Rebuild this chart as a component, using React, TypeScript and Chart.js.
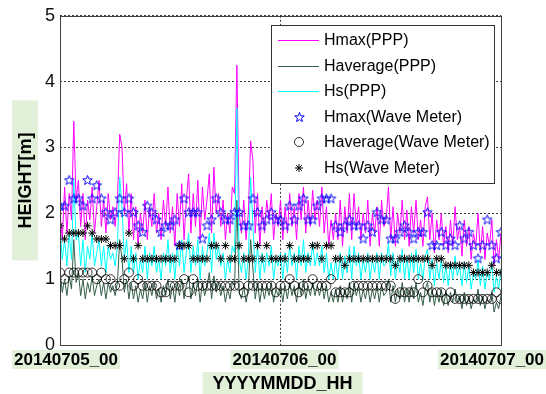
import { useEffect, useRef } from 'react';
import { Chart, registerables } from 'chart.js';

Chart.register(...registerables);

// ---------- data ----------
const X_TICK_HOURS = [0, 24, 48];
const X_TICK_LABELS = ['20140705_00', '20140706_00', '20140707_00'];
const Y_MIN = 0;
const Y_MAX = 5;
const X_TITLE = 'YYYYMMDD_HH';
const Y_TITLE = 'HEIGHT[m]';
const SERIES_NAMES = [
  'Hmax(PPP)',
  'Haverage(PPP)',
  'Hs(PPP)',
  'Hmax(Wave Meter)',
  'Haverage(Wave Meter)',
  'Hs(Wave Meter)',
];
const PPP_STEP_HOURS = 0.25;
const WM_STEP_HOURS = 0.5;

const hmaxPPP = [
  2.0, 1.6, 2.4, 1.7, 2.3, 1.9, 3.4, 2.2,
  2.5, 1.8, 2.3, 1.6, 2.2, 1.9, 2.4, 1.7,
  2.1, 2.5, 1.8, 2.2, 1.7, 2.3, 1.9, 2.1,
  1.8, 2.2, 3.2, 3.0, 2.0, 2.45, 1.7, 2.3,
  1.6, 2.1, 1.5, 2.0, 1.7, 2.2, 1.6, 2.1,
  1.8, 2.3, 1.7, 2.0, 1.6, 2.2, 1.8, 2.4,
  1.7, 2.1, 1.5, 2.3, 1.8, 2.45, 1.6, 2.2,
  2.6, 1.7, 2.3, 1.8, 2.5, 1.6, 2.4, 1.9,
  2.2, 2.6, 1.7, 2.7, 2.0, 2.3, 1.8, 2.2,
  1.6, 2.0, 1.7, 2.4, 2.3, 4.25, 2.0, 1.7,
  2.2, 1.6, 2.0, 3.1, 2.8, 1.7, 2.3, 1.5,
  2.1, 1.7, 2.2, 1.9, 2.3, 1.6, 2.0, 1.8,
  2.2, 1.6, 2.1, 1.7, 2.3, 1.8, 2.1, 1.6,
  2.3, 1.9, 2.4, 1.7, 2.2, 1.8, 2.35, 1.9,
  2.2, 1.8, 2.4, 1.7, 2.1, 1.5, 1.9, 1.6,
  2.0, 1.6, 2.2, 1.5, 2.1, 1.7, 2.3, 1.6,
  2.3, 1.8, 2.1, 1.6, 2.0, 1.7, 2.2, 1.5,
  2.0, 1.7, 2.1, 1.5, 2.2, 1.8, 1.9, 2.4,
  1.6, 2.1, 1.5, 2.0, 1.7, 2.2, 1.6, 2.05,
  1.5, 2.1, 1.7, 2.2, 1.6, 1.9, 1.5, 2.1,
  2.25, 1.6, 2.0, 1.4, 1.9, 1.6, 2.0, 1.5,
  1.8, 1.4, 1.9, 1.5, 2.1, 1.6, 1.8, 1.35,
  1.9, 1.5, 1.8, 1.3, 1.7, 1.5, 2.0, 1.4,
  1.8, 1.3, 1.7, 1.5, 1.9, 1.2, 1.6, 1.3, 1.7,
];

const haveragePPP = [
  1.1, 0.8, 1.0, 0.75, 1.05, 0.85, 1.6, 0.95,
  1.1, 0.75, 1.0, 0.7, 0.95, 0.8, 1.05, 0.75,
  0.9, 1.0, 0.75, 0.95, 0.7, 0.95, 0.8, 0.9,
  0.75, 0.95, 1.6, 1.3, 0.8, 1.0, 0.7, 0.95,
  0.7, 0.9, 0.65, 0.85, 0.7, 0.95, 0.65, 0.9,
  0.75, 0.95, 0.7, 0.85, 0.65, 0.9, 0.75, 1.0,
  0.7, 0.9, 0.65, 0.95, 0.75, 1.0, 0.7, 0.9,
  1.05, 0.7, 0.95, 0.75, 1.0, 0.65, 0.95, 0.75,
  0.9, 1.1, 0.7, 1.05, 0.8, 0.95, 0.75, 0.9,
  0.65, 0.85, 0.7, 0.95, 0.9, 2.2, 0.8, 0.7,
  0.9, 0.65, 0.85, 1.6, 1.15, 0.7, 0.95, 0.65,
  0.9, 0.7, 0.9, 0.75, 0.95, 0.65, 0.85, 0.75,
  0.9, 0.65, 0.9, 0.7, 0.95, 0.75, 0.9, 0.65,
  0.95, 0.75, 1.0, 0.7, 0.9, 0.75, 0.95, 0.75,
  0.9, 0.75, 0.95, 0.7, 0.9, 0.65, 0.8, 0.65,
  0.85, 0.65, 0.9, 0.65, 0.85, 0.7, 0.95, 0.65,
  0.95, 0.75, 0.9, 0.65, 0.85, 0.7, 0.9, 0.65,
  0.85, 0.7, 0.9, 0.65, 0.9, 0.75, 0.8, 1.0,
  0.65, 0.9, 0.65, 0.85, 0.7, 0.95, 0.65, 0.85,
  0.65, 0.9, 0.7, 0.95, 0.65, 0.8, 0.6, 0.85,
  0.95, 0.65, 0.85, 0.6, 0.8, 0.65, 0.85, 0.6,
  0.8, 0.6, 0.8, 0.65, 0.85, 0.65, 0.75, 0.55,
  0.8, 0.6, 0.75, 0.55, 0.7, 0.65, 0.85, 0.6,
  0.75, 0.55, 0.7, 0.65, 0.8, 0.5, 0.65, 0.55, 0.75,
];

const hsPPP = [
  1.8, 1.3, 1.6, 1.2, 1.7, 1.3, 2.5, 1.6,
  1.7, 1.2, 1.6, 1.1, 1.5, 1.3, 1.7, 1.2,
  1.4, 1.6, 1.2, 1.5, 1.1, 1.5, 1.3, 1.4,
  1.2, 1.5, 2.55, 2.1, 1.3, 1.6, 1.1, 1.5,
  1.1, 1.4, 1.0, 1.3, 1.1, 1.5, 1.0, 1.4,
  1.2, 1.5, 1.1, 1.3, 1.0, 1.4, 1.2, 1.6,
  1.1, 1.4, 1.0, 1.5, 1.2, 1.6, 1.1, 1.4,
  1.7, 1.1, 1.5, 1.2, 1.6, 1.0, 1.5, 1.2,
  1.4, 1.7, 1.1, 1.7, 1.3, 1.5, 1.2, 1.4,
  1.0, 1.3, 1.1, 1.5, 1.4, 3.6, 1.3, 1.1,
  1.4, 1.0, 1.3, 2.55, 1.8, 1.1, 1.5, 1.0,
  1.4, 1.1, 1.4, 1.2, 1.5, 1.0, 1.3, 1.2,
  1.4, 1.0, 1.4, 1.1, 1.5, 1.2, 1.4, 1.0,
  1.5, 1.2, 1.6, 1.1, 1.4, 1.2, 1.55, 1.2,
  1.4, 1.2, 1.5, 1.1, 1.4, 1.0, 1.25, 1.0,
  1.3, 1.0, 1.4, 1.0, 1.35, 1.1, 1.5, 1.0,
  1.5, 1.2, 1.4, 1.0, 1.3, 1.1, 1.4, 1.0,
  1.3, 1.1, 1.4, 1.0, 1.4, 1.2, 1.25, 1.55,
  1.05, 1.4, 1.0, 1.3, 1.1, 1.45, 1.0, 1.35,
  1.0, 1.4, 1.1, 1.45, 1.0, 1.25, 1.0, 1.35,
  1.45, 1.0, 1.3, 0.9, 1.25, 1.0, 1.3, 0.95,
  1.2, 0.9, 1.25, 1.0, 1.35, 1.05, 1.2, 0.9,
  1.25, 0.95, 1.2, 0.85, 1.1, 1.0, 1.3, 0.9,
  1.2, 0.85, 1.1, 1.0, 1.25, 0.8, 1.05, 0.85, 1.15,
];

const hmaxWM = [
  2.11, 2.11, 2.5, 2.22, 2.22, 2.11, 2.5, 2.22, 2.42, 2.22,
  2.01, 1.9, 2.01, 2.22, 2.01, 2.22, 2.01, 1.81, 1.71, 2.11,
  2.01, 1.9, 1.71, 1.81, 1.81, 1.9, 1.51, 2.22, 2.01, 2.01,
  2.01, 1.61, 1.81, 1.9, 2.22, 2.01, 1.9, 1.9, 2.01, 2.01,
  1.81, 1.81, 2.22, 2.01, 1.81, 1.9, 2.01, 1.9, 1.9, 1.81,
  2.11, 1.9, 2.11, 2.22, 1.9, 1.9, 2.11, 2.22, 2.22, 2.22,
  1.81, 1.71, 1.81, 1.9, 1.81, 1.81, 1.61, 1.81, 1.71, 2.01,
  1.9, 1.9, 1.61, 1.61, 1.71, 1.81, 1.71, 1.61, 1.71, 1.71,
  2.01, 1.51, 1.51, 1.71, 1.51, 1.61, 1.51, 1.81, 1.61, 1.71,
  1.51, 1.31, 1.51, 1.9, 1.51, 1.31, 1.71,
];

const haverageWM = [
  1.1, 1.0, 1.1, 1.1, 1.1, 1.1, 1.1, 1.1, 1.0, 1.1,
  1.0, 1.0, 0.9, 0.9, 1.0, 1.1, 0.9, 1.0, 0.9, 0.9,
  0.9, 0.9, 0.8, 0.8, 0.9, 0.9, 0.9, 1.0, 0.8, 1.0,
  0.9, 0.9, 0.9, 0.9, 0.9, 0.9, 0.9, 0.9, 0.9, 0.9,
  0.8, 0.9, 0.9, 0.9, 0.9, 0.9, 0.9, 0.8, 0.9, 0.9,
  1.0, 0.9, 0.8, 0.9, 0.9, 1.0, 0.9, 0.9, 0.9, 1.0,
  0.8, 0.8, 0.8, 0.8, 0.9, 0.9, 0.9, 0.9, 0.9, 0.9,
  0.9, 0.9, 0.9, 0.7, 0.8, 0.8, 0.8, 0.8, 1.0, 0.8,
  0.9, 0.8, 0.8, 0.8, 0.7, 0.8, 0.7, 0.7, 0.7, 0.7,
  0.7, 0.7, 0.7, 0.7, 0.7, 0.8, 0.7,
];

const hsWM = [
  1.81, 1.61, 1.7, 1.7, 1.7, 1.7, 1.81, 1.7, 1.61, 1.61,
  1.61, 1.51, 1.51, 1.51, 1.31, 1.7, 1.31, 1.51, 1.31, 1.31,
  1.31, 1.31, 1.31, 1.31, 1.31, 1.31, 1.51, 1.51, 1.51, 1.31,
  1.31, 1.31, 1.31, 1.51, 1.51, 1.31, 1.51, 1.31, 1.31, 1.51,
  1.31, 1.31, 1.31, 1.51, 1.31, 1.51, 1.31, 1.31, 1.31, 1.31,
  1.51, 1.31, 1.31, 1.31, 1.31, 1.51, 1.51, 1.31, 1.51, 1.51,
  1.31, 1.31, 1.21, 1.31, 1.31, 1.31, 1.31, 1.31, 1.31, 1.31,
  1.31, 1.31, 1.31, 1.21, 1.31, 1.31, 1.31, 1.31, 1.31, 1.31,
  1.31, 1.21, 1.31, 1.31, 1.21, 1.21, 1.21, 1.21, 1.21, 1.21,
  1.1, 1.1, 1.1, 1.1, 1.21, 1.1, 1.1,
];

// ---------- styles ----------
const MAGENTA = '#ff00ff';
const DARK_GREEN = '#35604a';
const CYAN = '#00ffff';
const STAR_BLUE = '#0000ff';
const LABEL_BG = '#e2efd9';
const GRID_COLOR = '#3a3a3a';
const FONT = 'Arial, "Liberation Sans", sans-serif';

function makeStar(color: string, r: number): HTMLCanvasElement {
  const size = Math.ceil(r * 2 + 3);
  const c = document.createElement('canvas');
  c.width = size;
  c.height = size;
  const g = c.getContext('2d') as CanvasRenderingContext2D;
  const cx = size / 2;
  const cy = size / 2;
  g.beginPath();
  for (let k = 0; k < 10; k++) {
    const rad = k % 2 === 0 ? r : r * 0.42;
    const ang = -Math.PI / 2 + (k * Math.PI) / 5;
    const px = cx + rad * Math.cos(ang);
    const py = cy + rad * Math.sin(ang);
    if (k === 0) g.moveTo(px, py);
    else g.lineTo(px, py);
  }
  g.closePath();
  g.strokeStyle = color;
  g.lineWidth = 1;
  g.stroke();
  return c;
}

const toPoints = (vals: number[], step: number) => vals.map((v, i) => ({ x: i * step, y: v }));

export default function App() {
  const ref = useRef<HTMLCanvasElement | null>(null);

  useEffect(() => {
    if (!ref.current) return;
    const star = makeStar(STAR_BLUE, 5);

    const decor = {
      id: 'decor',
      afterDraw(chart: any) {
        const { ctx, chartArea: a, scales } = chart;
        ctx.save();
        // axes box
        ctx.strokeStyle = '#404040';
        ctx.lineWidth = 1;
        ctx.setLineDash([]);
        ctx.strokeRect(Math.round(a.left) + 0.5, Math.round(a.top) + 0.5, Math.round(a.right - a.left), Math.round(a.bottom - a.top));

        // x tick labels with backdrops
        const xs = scales.x;
        ctx.font = `bold 17px ${FONT}`;
        ctx.textBaseline = 'middle';
        ctx.textAlign = 'center';
        X_TICK_HOURS.forEach((h, i) => {
          const label = X_TICK_LABELS[i];
          const w = ctx.measureText(label).width;
          const px = xs.getPixelForValue(h);
          const cx = Math.min(Math.max(px + 4, w / 2 + 14), chart.width - w / 2 - 2);
          ctx.fillStyle = LABEL_BG;
          ctx.fillRect(cx - w / 2 - 2, a.bottom + 5, w + 4, 19);
          ctx.fillStyle = '#000';
          ctx.fillText(label, cx, a.bottom + 15);
        });

        // x title
        ctx.font = `bold 18px ${FONT}`;
        const midX = (a.left + a.right) / 2 + 2;
        ctx.fillStyle = LABEL_BG;
        ctx.fillRect(midX - 80, a.bottom + 27, 160, 30);
        ctx.fillStyle = '#000';
        ctx.fillText(X_TITLE, midX, a.bottom + 39);

        // y title
        const midY = (a.top + a.bottom) / 2;
        ctx.fillStyle = LABEL_BG;
        ctx.fillRect(12, midY - 80, 26, 160);
        ctx.save();
        ctx.translate(25, midY);
        ctx.rotate(-Math.PI / 2);
        ctx.fillStyle = '#000';
        ctx.fillText(Y_TITLE, 0, 1);
        ctx.restore();

        // legend
        const lx = 271;
        const ly = 25;
        const lw = 223;
        const lh = 158;
        ctx.fillStyle = '#fff';
        ctx.fillRect(lx, ly, lw, lh);
        ctx.strokeStyle = '#333';
        ctx.lineWidth = 1;
        ctx.strokeRect(lx + 0.5, ly + 0.5, lw, lh);
        ctx.font = `16px ${FONT}`;
        ctx.textAlign = 'left';
        const lineColors = [MAGENTA, DARK_GREEN, CYAN];
        SERIES_NAMES.forEach((name, k) => {
          const y = Math.round(ly + 15 + k * 25.6);
          if (k < 3) {
            ctx.strokeStyle = lineColors[k];
            ctx.lineWidth = 1;
            ctx.beginPath();
            ctx.moveTo(278, y + 0.5);
            ctx.lineTo(319, y + 0.5);
            ctx.stroke();
          } else if (k === 3) {
            ctx.drawImage(star, Math.round(299 - star.width / 2), Math.round(y - star.height / 2));
          } else if (k === 4) {
            ctx.strokeStyle = '#000';
            ctx.lineWidth = 0.8;
            ctx.beginPath();
            ctx.arc(299, y, 4.5, 0, Math.PI * 2);
            ctx.stroke();
          } else {
            ctx.strokeStyle = '#000';
            ctx.lineWidth = 1;
            const r = 4;
            const d = r * Math.SQRT1_2;
            ctx.beginPath();
            ctx.moveTo(299 - r, y); ctx.lineTo(299 + r, y);
            ctx.moveTo(299, y - r); ctx.lineTo(299, y + r);
            ctx.moveTo(299 - d, y - d); ctx.lineTo(299 + d, y + d);
            ctx.moveTo(299 - d, y + d); ctx.lineTo(299 + d, y - d);
            ctx.stroke();
          }
          ctx.fillStyle = '#000';
          ctx.fillText(name, 324, y + 1);
        });
        ctx.restore();
      },
    };

    const lineDs = (label: string, vals: number[], color: string, order: number) => ({
      label,
      data: toPoints(vals, PPP_STEP_HOURS),
      borderColor: color,
      backgroundColor: color,
      borderWidth: 1,
      pointRadius: 0,
      tension: 0,
      fill: false,
      order,
    });

    const chart = new Chart(ref.current, {
      type: 'line',
      data: {
        datasets: [
          lineDs(SERIES_NAMES[0], hmaxPPP, MAGENTA, 6),
          lineDs(SERIES_NAMES[1], haveragePPP, DARK_GREEN, 5),
          lineDs(SERIES_NAMES[2], hsPPP, CYAN, 4),
          {
            label: SERIES_NAMES[3],
            data: toPoints(hmaxWM, WM_STEP_HOURS),
            showLine: false,
            pointStyle: star as any,
            pointRadius: 5,
            borderColor: STAR_BLUE,
            backgroundColor: STAR_BLUE,
            order: 3,
          },
          {
            label: SERIES_NAMES[4],
            data: toPoints(haverageWM, WM_STEP_HOURS),
            showLine: false,
            pointStyle: 'circle',
            pointRadius: 4.5,
            pointBorderWidth: 0.8,
            borderColor: '#000',
            backgroundColor: 'rgba(0,0,0,0)',
            order: 2,
          },
          {
            label: SERIES_NAMES[5],
            data: toPoints(hsWM, WM_STEP_HOURS),
            showLine: false,
            pointStyle: 'star',
            pointRadius: 4,
            pointBorderWidth: 1,
            borderColor: '#000',
            backgroundColor: '#000',
            order: 1,
          },
        ] as any,
      },
      options: {
        animation: false,
        responsive: false,
        devicePixelRatio: 1,
        layout: { padding: { top: 14, right: 45, left: 0, bottom: 0 } },
        plugins: { legend: { display: false }, tooltip: { enabled: false } },
        scales: {
          x: {
            type: 'linear',
            min: X_TICK_HOURS[0],
            max: X_TICK_HOURS[X_TICK_HOURS.length - 1],
            afterBuildTicks: (s: any) => {
              s.ticks = X_TICK_HOURS.map((v) => ({ value: v }));
            },
            afterFit: (s: any) => {
              s.height = 49;
            },
            ticks: { display: false },
            border: { display: false, dash: [2, 2] },
            grid: {
              color: GRID_COLOR,
              lineWidth: 1,
              drawTicks: false,
            },
          },
          y: {
            type: 'linear',
            min: Y_MIN,
            max: Y_MAX,
            afterFit: (s: any) => {
              s.width = 60;
            },
            ticks: {
              stepSize: 1,
              padding: 5,
              color: '#111',
              font: { family: FONT, size: 18 },
            },
            border: { display: false, dash: [2, 2] },
            grid: {
              color: GRID_COLOR,
              lineWidth: 1,
              drawTicks: false,
            },
          },
        },
      } as any,
      plugins: [decor],
    });

    return () => chart.destroy();
  }, []);

  return (
    <div style={{ position: 'absolute', left: 0, top: 0, width: 546, height: 394 }}>
      <canvas ref={ref} width={546} height={394} style={{ display: 'block' }} />
    </div>
  );
}
